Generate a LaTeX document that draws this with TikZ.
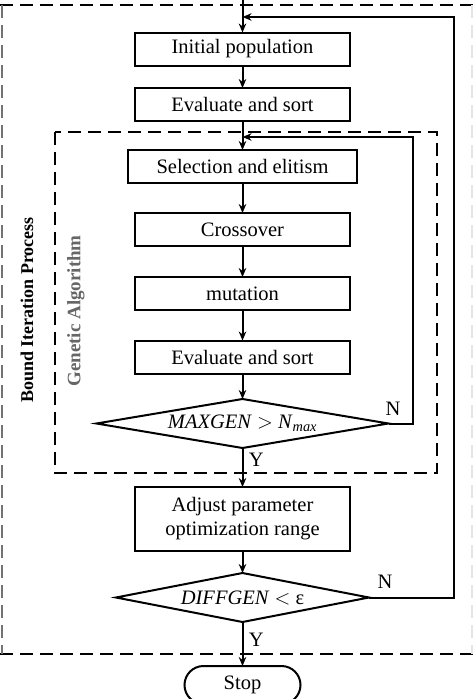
\documentclass[tikz,border=0pt]{standalone}
\usepackage{fontspec}
\setmainfont{Liberation Serif}
\usetikzlibrary{shapes.geometric,shapes.misc,arrows.meta}
\begin{document}
\begin{tikzpicture}[x=1pt,y=-1pt,
  font=\fontsize{20.5}{24}\selectfont,
  every node/.style={outer sep=0pt},
  proc/.style={draw, line width=2pt, minimum width=215pt, minimum height=33pt, inner sep=0pt},
  dec/.style={draw, diamond, line width=2pt, aspect=6, inner sep=0pt, minimum height=49pt},
  conn/.style={line width=2pt, -{Stealth[length=9pt,width=7.5pt]}},
  grpbox/.style={line width=2pt, dash pattern=on 13pt off 7pt},
  lbl/.style={font=\fontsize{20.5}{24}\selectfont}
]
\useasboundingbox (0,0) rectangle (474,699);
\clip (0,0) rectangle (474,699);
% outer dashed box
\draw[grpbox] (0,5) -- (474,5);
\draw[grpbox] (0,654) -- (474,654);
\draw[grpbox, draw=black!55] (2,5) -- (2,654);
\draw[grpbox, draw=black!10] (472,5) -- (472,654);
% inner dashed box
\draw[grpbox] (55,132) rectangle (437,473);

% nodes
\node[proc] (init) at (242.5,49) {Initial population};
\node[proc] (eval1) at (242.5,104.5) {Evaluate and sort};
\node[proc, minimum width=229pt] (sel) at (242.5,166.5) {Selection and elitism};
\node[proc] (cross) at (242.5,229.5) {Crossover};
\node[proc] (mut) at (242.5,293.5) {mutation};
\node[proc] (eval2) at (242.5,357) {Evaluate and sort};
\node[dec, minimum width=292pt] (d1) at (242.5,423.5) {\textit{MAXGEN} $>$ \textit{N}\textsubscript{\textit{max}}};
\node[proc, minimum height=64pt, align=center] (adj) at (242.5,519) {Adjust parameter\\optimization range};
\node[dec, minimum width=253pt] (d2) at (242.5,597.5) {\textit{DIFFGEN} $<$ ε};
\node[draw, rounded rectangle, line width=2pt, minimum width=116pt, minimum height=38pt, inner sep=0pt] (stop) at (242.5,685) {Stop};

% side labels
\node[rotate=90, font=\fontsize{18}{21}\selectfont\bfseries] (bip) at (27,310) {Bound Iteration Process};
\node[rotate=90, font=\fontsize{19}{22}\selectfont\bfseries, text=black!60] (ga) at (76,311) {Genetic Algorithm};

% coordinates
\coordinate (top) at (242.5,0);
\coordinate (j1) at (242.5,17);
\coordinate (j2) at (242.5,137);
\coordinate (r1) at (454,17);
\coordinate (r2) at (413,137);

% connectors
\draw[conn] (top) -- (init.north);
\draw[conn] (init) -- (eval1);
\draw[conn] (eval1) -- (sel);
\draw[conn] (sel) -- (cross);
\draw[conn] (cross) -- (mut);
\draw[conn] (mut) -- (eval2);
\draw[conn] (eval2) -- (d1);
\draw[conn] (d1.south) -- node[pos=0.3, right=3pt, lbl] (y1) {Y} (adj.north);
\draw[conn] (adj) -- (d2);
\draw[conn] (d2.south) -- node[pos=0.4, right=3pt, lbl] (y2) {Y} (stop.north);
\draw[conn] (d1.east) -- (d1.east -| r2) -- (r2) -- (j2);
\draw[conn] (d2.east) -- (d2.east -| r1) -- (r1) -- (j1);
\node[lbl] (n1) at (393,409) {N};
\node[lbl] (n2) at (385,582) {N};
\end{tikzpicture}
\end{document}
